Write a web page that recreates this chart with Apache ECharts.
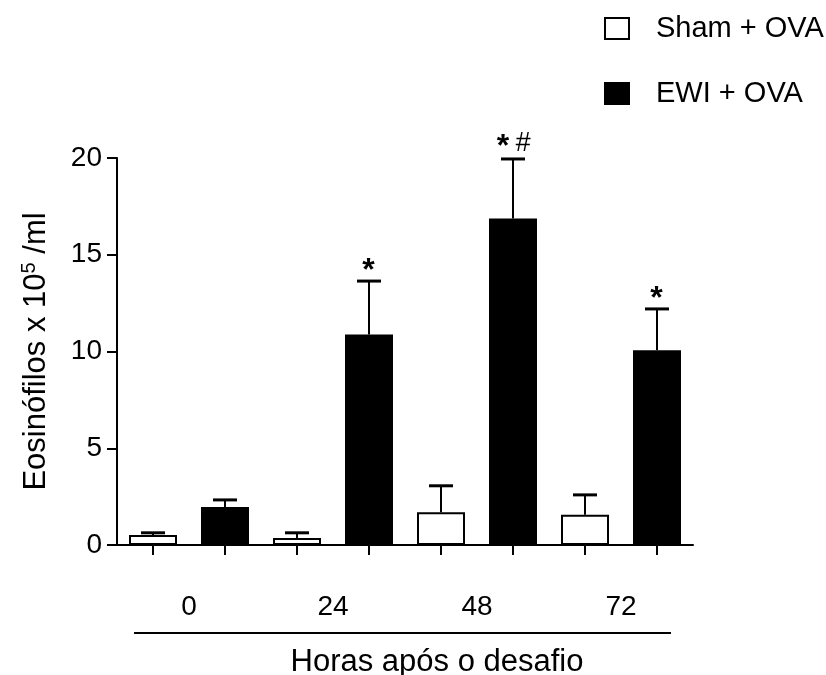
<!DOCTYPE html>
<html>
<head>
<meta charset="utf-8">
<script src="https://cdn.jsdelivr.net/npm/echarts@6/dist/echarts.min.js"></script>
<style>
html,body{margin:0;padding:0;background:#fff;}
#chart{width:826px;height:675px;}
</style>
</head>
<body>
<div id="chart"></div>
<script>
// ---- data ----
const groups = ['0', '24', '48', '72'];
const shamMean = [0.52, 0.36, 1.69, 1.56];
const shamErr  = [0.11, 0.27, 1.37, 1.03];
const ewiMean  = [1.96, 10.88, 16.87, 10.06];
const ewiErr   = [0.37, 2.76, 3.08, 2.14];
const ewiMarks = ['', '*', '*#', '*'];
const yTicks = { min: 0, max: 20, interval: 5 };
const xTitle = 'Horas após o desafio';

// ---- build slots (two bars per group) ----
const slots = [];
const shamData = [];
const ewiData = [];
const errData = [];
groups.forEach((g, i) => {
  slots.push(g + '-sham');
  slots.push(g + '-ewi');
  shamData.push(shamMean[i]); shamData.push('-');
  ewiData.push('-'); ewiData.push(ewiMean[i]);
  errData.push([2 * i, shamMean[i], shamMean[i] + shamErr[i], '']);
  errData.push([2 * i + 1, ewiMean[i], ewiMean[i] + ewiErr[i], ewiMarks[i]]);
});

const FONT = 'Liberation Sans, Arial, sans-serif';
const chart = echarts.init(document.getElementById('chart'));

chart.setOption({
  animation: false,
  backgroundColor: '#fff',
  textStyle: { fontFamily: FONT, color: '#000' },
  grid: { left: 117, top: 158, width: 576, height: 387, containLabel: false },
  legend: {
    orient: 'vertical',
    left: 599, top: 9,
    padding: 5,
    icon: 'rect',
    itemWidth: 24, itemHeight: 21,
    itemGap: 36,
    textStyle: { fontSize: 29, color: '#000', fontFamily: FONT, padding: [0, 0, 0, 22] },
    data: ['Sham + OVA', 'EWI + OVA']
  },
  xAxis: [
    {
      type: 'category',
      data: slots,
      boundaryGap: true,
      axisLine: { lineStyle: { color: '#000', width: 2 } },
      axisTick: { show: true, alignWithLabel: true, interval: 0, length: 10, lineStyle: { color: '#000', width: 2 } },
      axisLabel: { show: false },
      splitLine: { show: false }
    },
    {
      type: 'category',
      data: groups,
      position: 'bottom',
      boundaryGap: true,
      axisLine: { show: false },
      axisTick: { show: false },
      axisLabel: { show: true, margin: 48, fontSize: 28, color: '#000', fontFamily: FONT }
    }
  ],
  yAxis: {
    type: 'value',
    min: yTicks.min, max: yTicks.max, interval: yTicks.interval,
    axisLine: { show: true, lineStyle: { color: '#000', width: 2 } },
    axisTick: { show: true, length: 10, lineStyle: { color: '#000', width: 2 } },
    axisLabel: { fontSize: 28, color: '#000', margin: 15, fontFamily: FONT },
    splitLine: { show: false },
    name: '{a|Eosinófilos x 10}{s|5}{a| /ml}',
    nameLocation: 'middle',
    nameGap: 64,
    nameRotate: 90,
    nameTextStyle: {
      fontFamily: FONT,
      rich: {
        a: { fontSize: 31, color: '#000', fontFamily: FONT, lineHeight: 34 },
        s: { fontSize: 20, color: '#000', fontFamily: FONT, lineHeight: 34, verticalAlign: 'top', padding: [0, 0, 16, 0] }
      }
    }
  },
  graphic: [
    { type: 'line', shape: { x1: 134, y1: 633, x2: 671, y2: 633 }, style: { stroke: '#000', lineWidth: 2 } },
    { type: 'text', x: 437, y: 662, style: { text: xTitle, fontSize: 31, fontFamily: FONT, fill: '#000', align: 'center', verticalAlign: 'middle' } }
  ],
  series: [
    {
      name: 'Sham + OVA', type: 'bar', xAxisIndex: 0, data: shamData,
      barWidth: 48, barGap: '-100%',
      itemStyle: { color: '#fff', borderColor: '#000', borderWidth: 2 },
      z: 2
    },
    {
      name: 'EWI + OVA', type: 'bar', xAxisIndex: 0, data: ewiData,
      barWidth: 48, barGap: '-100%',
      itemStyle: { color: '#000', borderColor: '#000', borderWidth: 2 },
      z: 2
    },
    {
      type: 'custom', xAxisIndex: 0, data: errData, z: 3,
      encode: { x: 0, y: [1, 2] },
      renderItem: function (params, api) {
        const idx = api.value(0);
        const base = api.coord([idx, api.value(1)]);
        const top = api.coord([idx, api.value(2)]);
        const mark = errData[params.dataIndex][3];
        const half = 12;
        const children = [
          { type: 'line', shape: { x1: base[0], y1: base[1], x2: top[0], y2: top[1] }, style: { stroke: '#000', lineWidth: 2 } },
          { type: 'line', shape: { x1: top[0] - half, y1: top[1], x2: top[0] + half, y2: top[1] }, style: { stroke: '#000', lineWidth: 3 } }
        ];
        if (mark) {
          const parts = mark.split('');
          let rich = '';
          parts.forEach(p => { rich += (p === '*' ? '{s|*}' : '{h|#}'); });
          children.push({
            type: 'text',
            style: {
              x: top[0] + (parts.length > 1 ? -2 : 0), y: top[1] + 6,
              text: rich,
              align: 'center', verticalAlign: 'bottom',
              rich: {
                s: { fontSize: 32, fontWeight: 'bold', fontFamily: FONT, fill: '#000', padding: [0, 6, 0, 5] },
                h: { fontSize: 27, fontStyle: 'italic', fontFamily: FONT, fill: '#000', padding: [0, 0, 8, 0] }
              }
            }
          });
        }
        return { type: 'group', children: children };
      }
    }
  ]
});
</script>
</body>
</html>
